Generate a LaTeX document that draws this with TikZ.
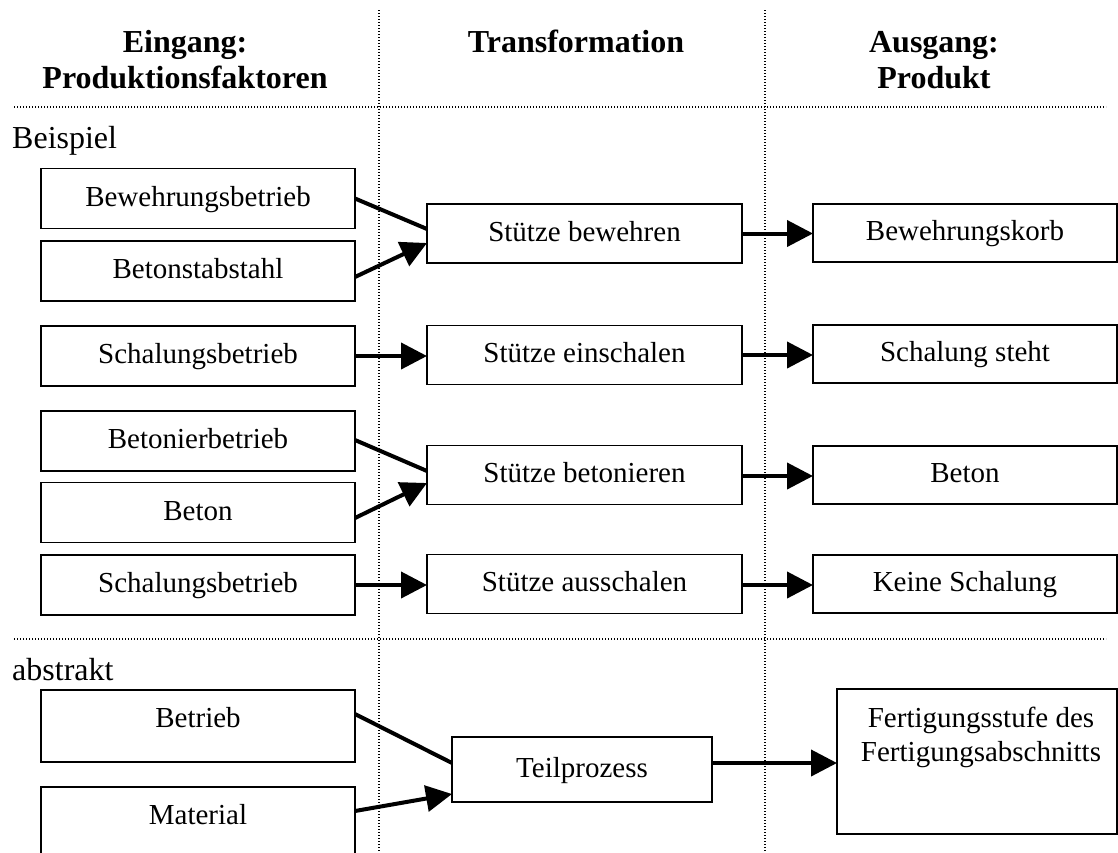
\documentclass[tikz,border=0pt]{standalone}
\usepackage{fontspec}
\setmainfont{Liberation Serif}
\usetikzlibrary{arrows.meta,calc}

\begin{document}
\begin{tikzpicture}[x=1pt,y=-1pt,
  txt/.style={font=\fontsize{29}{34}\selectfont},
  head/.style={font=\fontsize{32}{36}\selectfont\bfseries,anchor=base,inner sep=0pt},
  sect/.style={font=\fontsize{32}{36}\selectfont,anchor=base west,inner sep=0pt},
  grid/.style={line width=1.1pt,dash pattern=on 1.1pt off 1.9pt},
  box/.style={txt,draw,line width=1.9pt,rectangle,inner sep=0pt,outer sep=0pt,
    text height=21pt,text depth=6pt},
  lbox/.style={box,minimum width=314pt,minimum height=60pt},
  mbox/.style={box,minimum width=315pt,minimum height=59pt},
  rbox/.style={box,minimum width=304pt,minimum height=58pt},
  flow/.style={line width=4pt},
  flowto/.style={flow,-{Triangle[length=26pt,width=26pt]}}
]
\path[use as bounding box] (0,0) rectangle (1118,852);
\clip (0,0) rectangle (1118,852);

% column and section separators
\draw[grid] (379,10) -- (379,852);
\draw[grid] (765,10) -- (765,852);
\draw[grid] (14,107) -- (1106,107);
\draw[grid] (14,639) -- (1106,639);

% column headings
\node[head] (hin1)  at (185,52) {Eingang:};
\node[head] (hin2)  at (185,88) {Produktionsfaktoren};
\node[head] (htr)   at (576,52) {Transformation};
\node[head] (hout1) at (934,52) {Ausgang:};
\node[head] (hout2) at (934,88) {Produkt};

% section labels
\node[sect] (sbsp) at (12,148) {Beispiel};
\node[sect] (sabs) at (12,680) {abstrakt};

% inputs
\node[lbox] (lb1) at (198,198.5) {Bewehrungsbetrieb};
\node[lbox] (lb2) at (198,271)   {Betonstabstahl};
\node[lbox] (lb3) at (198,356)   {Schalungsbetrieb};
\node[lbox] (lb4) at (198,441)   {Betonierbetrieb};
\node[lbox] (lb5) at (198,512.5) {Beton};
\node[lbox] (lb6) at (198,585)   {Schalungsbetrieb};

% transformations
\node[mbox] (mb1) at (584.5,233.5) {Stütze bewehren};
\node[mbox] (mb2) at (584.5,355)   {Stütze einschalen};
\node[mbox] (mb3) at (584.5,475)   {Stütze betonieren};
\node[mbox] (mb4) at (584.5,584)   {Stütze ausschalen};

% outputs
\node[rbox] (rb1) at (965,233) {Bewehrungskorb};
\node[rbox] (rb2) at (965,354) {Schalung steht};
\node[rbox] (rb3) at (965,475) {Beton};
\node[rbox] (rb4) at (965,584) {Keine Schalung};

% abstract scheme
\node[lbox,minimum height=72pt,text depth=19pt] (lb7) at (198,726) {Betrieb};
\node[lbox,minimum height=72pt,text depth=19pt] (lb8) at (198,823) {Material};
\node[box,minimum width=260pt,minimum height=65pt] (tp) at (582,769.5) {Teilprozess};
\node[box,minimum width=280pt,minimum height=145pt] (fs) at (977,761.5) {};
\node[txt,align=center,anchor=north,inner sep=0pt] (fstxt) at ([xshift=4pt,yshift=-18pt]fs.north)
  {Fertigungsstufe des\\Fertigungsabschnitts};

% connectors
\draw[flow]   (lb1.east) -- ($(mb1.west)+(0,-4.5)$);
\draw[flowto] ($(lb2.east)+(0,6)$) -- ($(mb1.west)+(0,9.5)$);
\draw[flowto] (lb3.east) -- (lb3.east -| mb2.west);
\draw[flow]   ($(lb4.east)+(0,-1)$) -- ($(mb3.west)+(0,-4)$);
\draw[flowto] ($(lb5.east)+(0,5.5)$) -- ($(mb3.west)+(0,8)$);
\draw[flowto] (lb6.east) -- (lb6.east -| mb4.west);

\draw[flowto] (mb1.east) -- (mb1.east -| rb1.west);
\draw[flowto] (mb2.east) -- (mb2.east -| rb2.west);
\draw[flowto] ($(mb3.east)+(0,1)$) -- ($(mb3.east -| rb3.west)+(0,1)$);
\draw[flowto] ($(mb4.east)+(0,1)$) -- ($(mb4.east -| rb4.west)+(0,1)$);

\draw[flow]   ($(lb7.east)+(0,-12)$) -- ($(tp.west)+(0,-6.5)$);
\draw[flowto] ($(lb8.east)+(0,-12)$) -- ($(tp.west)+(0,24.5)$);
\draw[flowto] ($(tp.east)+(0,-6.5)$) -- ($(tp.east -| fs.west)+(0,-6.5)$);
\end{tikzpicture}
\end{document}
